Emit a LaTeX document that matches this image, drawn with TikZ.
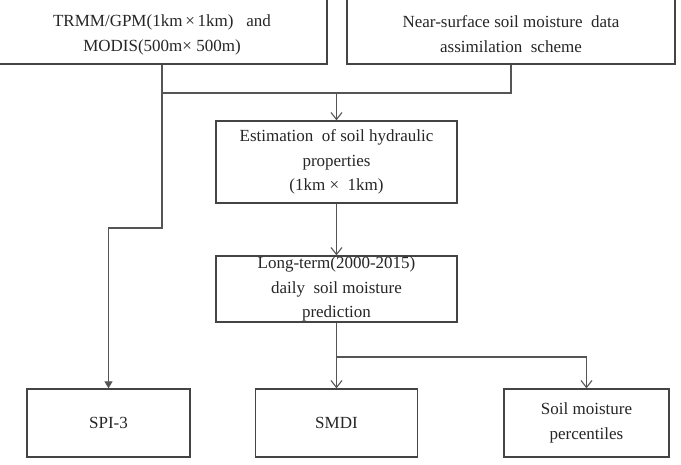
\documentclass[tikz,border=0pt]{standalone}
\usepackage{fontspec}
\setmainfont{Liberation Serif}
\usetikzlibrary{arrows.meta}
\definecolor{linec}{HTML}{555555}
\definecolor{boxc}{HTML}{444444}
\definecolor{txtc}{HTML}{262626}
\begin{document}
\begin{tikzpicture}[x=1pt,y=-1pt,
  box/.style={draw=boxc, line width=1.3pt, fill=none, inner sep=0pt, align=center,
     text=txtc, font=\fontsize{17}{24.5}\selectfont},
  txt/.style={inner sep=0pt, align=center, text=txtc, font=\fontsize{17}{25}\selectfont},
  conn/.style={draw=linec, line width=1.2pt},
  openarr/.style={conn, -{Straight Barb[length=7pt,width=11pt,line width=1.1pt]}},
  fillarr/.style={conn, -{Triangle[length=7pt,width=8pt]}}]
\useasboundingbox (0,0) rectangle (681,464);
\fill[white] (0,0) rectangle (681,464);
% top boxes (top edges outside the picture)
\node[box, minimum width=330pt, minimum height=74pt] (tl) at (162,27) {};
\node[txt] (tltext) at (162,34.5) {TRMM/GPM(1km\,\texttimes\,1km)\ \ \ and\\MODIS(500m\texttimes\ 500m)};
\node[box, minimum width=328pt, minimum height=74pt] (tr) at (511,27) {};
\node[txt] (trtext) at (511,34.5) {Near-surface\ soil\ moisture\ \ data\\assimilation\ \ scheme};
% middle boxes
\node[box, minimum width=241pt, minimum height=82pt] (est) at (336.5,162)
  {Estimation\ \ of soil\ hydraulic\\properties\\(1km\ \texttimes\ \ 1km)};
\node[box, minimum width=241pt, minimum height=66pt] (long) at (336.5,289)
  {Long-term(2000-2015)\\daily\ \ soil\ moisture\\prediction};
% bottom boxes
\node[box, minimum width=163pt, minimum height=68pt] (spi) at (108.5,423) {SPI-3};
\node[box, minimum width=162pt, minimum height=68pt] (smdi) at (336.5,423) {SMDI};
\node[box, minimum width=165pt, minimum height=68pt] (perc) at (586.5,423) {Soil\ moisture\\percentiles};
% connectors
\coordinate (j) at (336.5,93);
\coordinate (bend) at (162,228);
\coordinate (b) at (336.5,357);
\draw[conn] (tl.south) |- (j) -| (tr.south);
\draw[openarr] (j) -- (est.north);
\draw[fillarr] (tl.south) -- (bend) -| (spi.north);
\draw[openarr] (est.south) -- (long.north);
\draw[openarr] (long.south) -- (smdi.north);
\draw[openarr] (b) -| (perc.north);
\end{tikzpicture}
\end{document}
